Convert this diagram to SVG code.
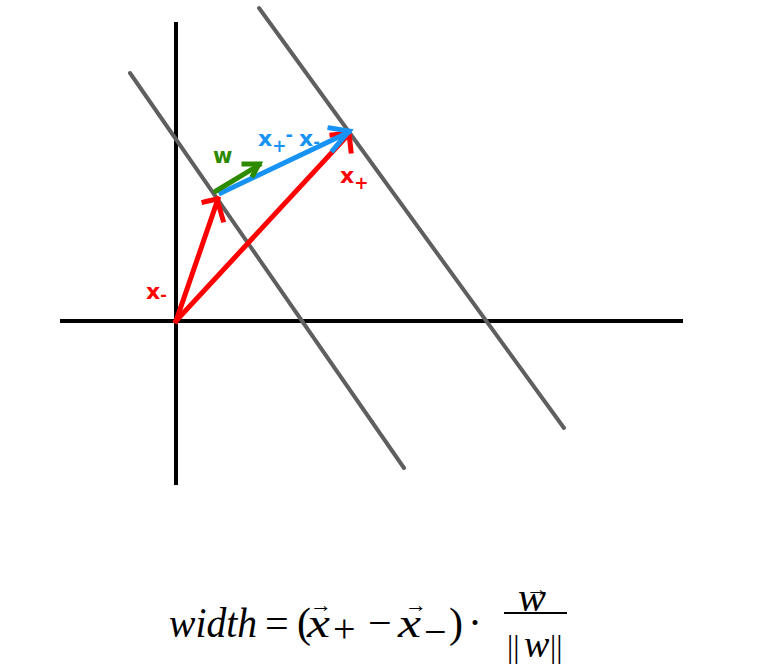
<svg xmlns="http://www.w3.org/2000/svg" width="763" height="666" viewBox="0 0 763 666">
<style>
.axis{stroke:#000;stroke-width:4;fill:none}
.plane{stroke:#5f5f5f;stroke-width:4;fill:none;stroke-linecap:round}
.red{stroke:#ff0000;stroke-width:5;fill:none;stroke-linecap:square}
.blue{stroke:#1793f5;stroke-width:5;fill:none;stroke-linecap:square}
.green{stroke:#2e8b00;stroke-width:5;fill:none;stroke-linecap:square}
.lbl{font-family:"DejaVu Sans",sans-serif;font-weight:bold}
.math{font-family:"Liberation Serif",serif;fill:#000}
.it{font-style:italic}
</style>
<rect width="763" height="666" fill="#fff"/>
<g id="connectors">
<g id="axes">
<line class="axis" x1="176" y1="22" x2="176" y2="485"/>
<line class="axis" x1="60" y1="321" x2="683" y2="321"/>
</g>
<g id="planes">
<line class="plane" x1="130" y1="73" x2="404" y2="468"/>
<line class="plane" x1="259" y1="8" x2="564" y2="428"/>
</g>
<g id="arrow-xminus">
<path class="red" d="M176,321 L218,199"/>
<path class="red" d="M204,202 L217,199 L223,220"/>
</g>
<g id="arrow-xplus">
<path class="red" d="M176,321 L349,134"/>
<path class="red" d="M332,135 L349,133 L351,151"/>
</g>
<g id="arrow-diff">
<path class="blue" d="M221,193 L349,132"/>
<path class="blue" d="M330,128 L349,131 L333,150"/>
</g>
<g id="arrow-w">
<path class="green" d="M216,191 L259,165"/>
<path class="green" d="M244,164 L259,164 L253,175"/>
</g>
</g>
<g id="labels">
<g id="lbl-w"><text class="lbl" x="213" y="163" font-size="21" fill="#2e8b00">w</text></g>
<g id="lbl-diff"><text class="lbl" x="258" y="146" font-size="22" fill="#1793f5">x<tspan font-size="17" dy="6">+</tspan><tspan font-size="18" dx="-1" dy="-11">-</tspan><tspan dx="6" dy="5">x</tspan><tspan font-size="16" dy="1">-</tspan></text></g>
<g id="lbl-xplus"><text class="lbl" x="340" y="183" font-size="22" fill="#ff0000">x<tspan font-size="17" dy="6">+</tspan></text></g>
<g id="lbl-xminus"><text class="lbl" x="146" y="299" font-size="22" fill="#ff0000">x<tspan font-size="16" dy="1">-</tspan></text></g>
</g>
<g id="formula">
<text class="math it" x="169" y="637" font-size="42" textLength="88" lengthAdjust="spacingAndGlyphs">width</text>
<text class="math" x="265" y="637" font-size="42">=</text>
<text class="math" x="297" y="637" font-size="42">(</text>
<text class="math it" x="307" y="637" font-size="42" textLength="23" lengthAdjust="spacingAndGlyphs">x</text>
<text class="math" x="310" y="612" font-size="22">→</text>
<text class="math" x="333" y="642" font-size="40">+</text>
<text class="math" x="368" y="637" font-size="42">−</text>
<text class="math it" x="398" y="637" font-size="42" textLength="23" lengthAdjust="spacingAndGlyphs">x</text>
<text class="math" x="405" y="612" font-size="22">→</text>
<text class="math" x="424" y="645" font-size="40">−</text>
<text class="math" x="449" y="637" font-size="42">)</text>
<text class="math" x="468" y="637" font-size="42">·</text>
<line x1="504" y1="613" x2="567" y2="613" stroke="#000" stroke-width="2"/>
<text class="math it" x="518" y="611" font-size="42">w</text>
<text class="math" x="526" y="596" font-size="22">→</text>
<text class="math" x="507" y="657" font-size="31">||</text>
<text class="math it" x="524" y="657" font-size="38">w</text>
<text class="math" x="550" y="657" font-size="31">||</text>
</g>
</svg>
